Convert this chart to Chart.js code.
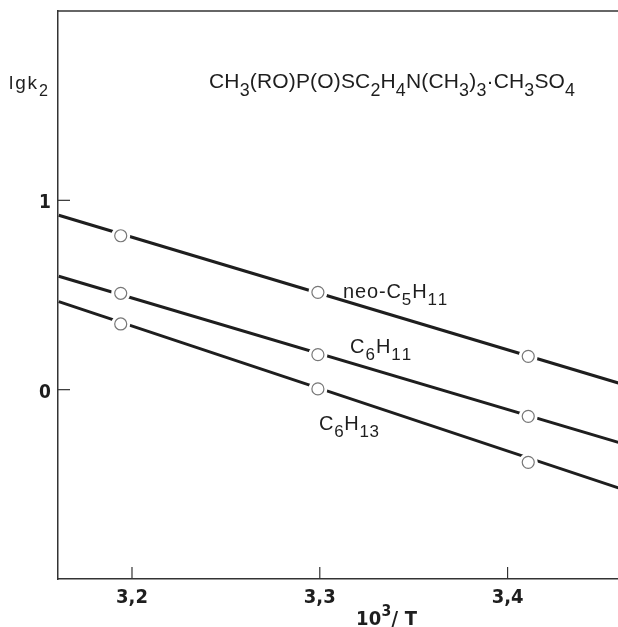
<!DOCTYPE html>
<html>
<head>
<meta charset="utf-8">
<title>lgk2 vs 10^3/T</title>
<script src="https://cdn.jsdelivr.net/npm/chart.js@4.4.1/dist/chart.umd.min.js"></script>
<style>
  html, body { margin: 0; padding: 0; background: #fff; }
  #wrap { width: 618px; height: 627px; }
</style>
</head>
<body>
<div id="wrap"><canvas id="chart" width="618" height="627"></canvas></div>
<script>
// data
const fitX = [3.161, 3.459];              // ends of the fitted lines
const neoFit = [0.921, 0.035];            // neo-C5H11
const hexenylFit = [0.599, -0.278];       // C6H11
const hexylFit = [0.465, -0.519];         // C6H13

const pointX = [3.194, 3.299, 3.411];
const neoPts = [0.813, 0.514, 0.176];
const hexenylPts = [0.509, 0.185, -0.141];
const hexylPts = [0.347, 0.004, -0.384];

const xTicks = [3.2, 3.3, 3.4];
const yTicks = [0, 1];

const INK = '#1e1e1e';
const narrow = '"DejaVu Sans Condensed", "Liberation Sans", sans-serif';
const plain = '"Liberation Sans", Arial, sans-serif';

const toXY = (xs, ys) => xs.map((x, i) => ({ x: x, y: ys[i] }));

// draws text with sub/superscript parts: [text, 'n' | 'sub' | 'sup']
// if width is given, letter spacing is stretched so the whole thing fits it
function drawFormula(ctx, parts, x, y, size, family, weight, width, subScale) {
    const k = subScale || 0.78;
    const fontFor = kind => `${weight || 'normal'} ${kind === 'n' ? size : size * k}px ${family}`;
    let spacing = 0;
    if (width) {
        let natural = 0, chars = 0;
        parts.forEach(([txt, kind]) => {
            ctx.font = fontFor(kind);
            natural += ctx.measureText(txt).width;
            chars += txt.length;
        });
        spacing = (width - natural) / (chars - 1);
    }
    let cx = x;
    parts.forEach(([txt, kind]) => {
        const dy = kind === 'sub' ? size * 0.36 : (kind === 'sup' ? -size * 0.45 : 0);
        ctx.font = fontFor(kind);
        for (const ch of txt) {
            ctx.fillText(ch, cx, y + dy);
            cx += ctx.measureText(ch).width + spacing;
        }
    });
}

const decorations = {
    id: 'decorations',
    afterDraw(chart) {
        const { ctx, chartArea, scales } = chart;
        const xs = scales.x, ys = scales.y;
        ctx.save();
        ctx.strokeStyle = '#333';
        ctx.fillStyle = INK;

        // top border of the frame
        ctx.lineWidth = 1.5;
        ctx.beginPath();
        ctx.moveTo(chartArea.left, chartArea.top);
        ctx.lineTo(chartArea.right, chartArea.top);
        ctx.stroke();

        // inward ticks
        ctx.lineWidth = 1.2;
        xs.ticks.forEach(t => {
            const px = xs.getPixelForValue(t.value);
            ctx.beginPath();
            ctx.moveTo(px, chartArea.bottom);
            ctx.lineTo(px, chartArea.bottom - 12);
            ctx.stroke();
        });
        ys.ticks.forEach(t => {
            const py = ys.getPixelForValue(t.value);
            ctx.beginPath();
            ctx.moveTo(chartArea.left, py);
            ctx.lineTo(chartArea.left + 12, py);
            ctx.stroke();
        });

        // tick labels
        ctx.textBaseline = 'alphabetic';
        ctx.textAlign = 'center';
        ctx.font = `bold 20px ${narrow}`;
        xs.ticks.forEach(t => {
            ctx.fillText(t.value.toFixed(1).replace('.', ','), xs.getPixelForValue(t.value), chartArea.bottom + 24);
        });
        ctx.textAlign = 'right';
        ctx.font = `bold 19px ${narrow}`;
        ys.ticks.forEach(t => {
            ctx.fillText(String(t.value), 51, ys.getPixelForValue(t.value) + 8);
        });

        // axis titles, formula and series labels
        ctx.textAlign = 'left';
        drawFormula(ctx, [['lgk', 'n'], ['2', 'sub']], 9, 89, 19, plain, 'normal', 39, 0.85);
        drawFormula(ctx, [['10', 'n'], ['3', 'sup'], ['/ T', 'n']], 356, 625, 20, narrow, 'bold', 61);
        drawFormula(ctx, [
            ['CH', 'n'], ['3', 'sub'], ['(RO)P(O)SC', 'n'], ['2', 'sub'], ['H', 'n'], ['4', 'sub'],
            ['N(CH', 'n'], ['3', 'sub'], [')', 'n'], ['3', 'sub'], ['·CH', 'n'], ['3', 'sub'],
            ['SO', 'n'], ['4', 'sub']
        ], 209, 88, 21, plain, 'normal', 366, 0.85);
        drawFormula(ctx, [['neo-C', 'n'], ['5', 'sub'], ['H', 'n'], ['11', 'sub']], 343, 298, 20, plain, 'normal', 103, 0.85);
        drawFormula(ctx, [['C', 'n'], ['6', 'sub'], ['H', 'n'], ['11', 'sub']], 350, 353, 20, plain, 'normal', 60, 0.85);
        drawFormula(ctx, [['C', 'n'], ['6', 'sub'], ['H', 'n'], ['13', 'sub']], 319, 430, 20, plain, 'normal', 60, 0.85);
        ctx.restore();
    }
};

function fitLine(label, ys) {
    return {
        type: 'line', label: label, data: toXY(fitX, ys),
        borderColor: INK, borderWidth: 3, pointRadius: 0, fill: false, order: 3
    };
}
function halo(ys) {
    return {
        label: 'gap', data: toXY(pointX, ys),
        pointRadius: 9.5, pointBackgroundColor: '#fff', pointBorderWidth: 0, order: 2
    };
}
function marks(label, ys) {
    return {
        label: label, data: toXY(pointX, ys),
        pointRadius: 6, pointBackgroundColor: '#fff', pointBorderColor: '#777', pointBorderWidth: 1.2, order: 1
    };
}

new Chart(document.getElementById('chart'), {
    type: 'scatter',
    data: {
        datasets: [
            fitLine('neo-C5H11', neoFit), fitLine('C6H11', hexenylFit), fitLine('C6H13', hexylFit),
            halo(neoPts), halo(hexenylPts), halo(hexylPts),
            marks('neo-C5H11', neoPts), marks('C6H11', hexenylPts), marks('C6H13', hexylPts)
        ]
    },
    options: {
        responsive: false,
        animation: false,
        devicePixelRatio: 1,
        layout: { autoPadding: false, padding: { top: 11, right: 0, left: 0, bottom: 0 } },
        plugins: { legend: { display: false }, tooltip: { enabled: false } },
        scales: {
            x: {
                type: 'linear', min: 3.1606, max: 3.4588,
                afterBuildTicks: s => { s.ticks = xTicks.map(v => ({ value: v })); },
                afterFit: s => { s.height = 48; },
                grid: { display: false, drawTicks: false },
                border: { display: true, color: '#333', width: 1.5 },
                ticks: { display: false }
            },
            y: {
                type: 'linear', min: -1, max: 2,
                afterBuildTicks: s => { s.ticks = yTicks.map(v => ({ value: v })); },
                afterFit: s => { s.width = 58; },
                grid: { display: false, drawTicks: false },
                border: { display: true, color: '#333', width: 1.5 },
                ticks: { display: false }
            }
        }
    },
    plugins: [decorations]
});
</script>
</body>
</html>
